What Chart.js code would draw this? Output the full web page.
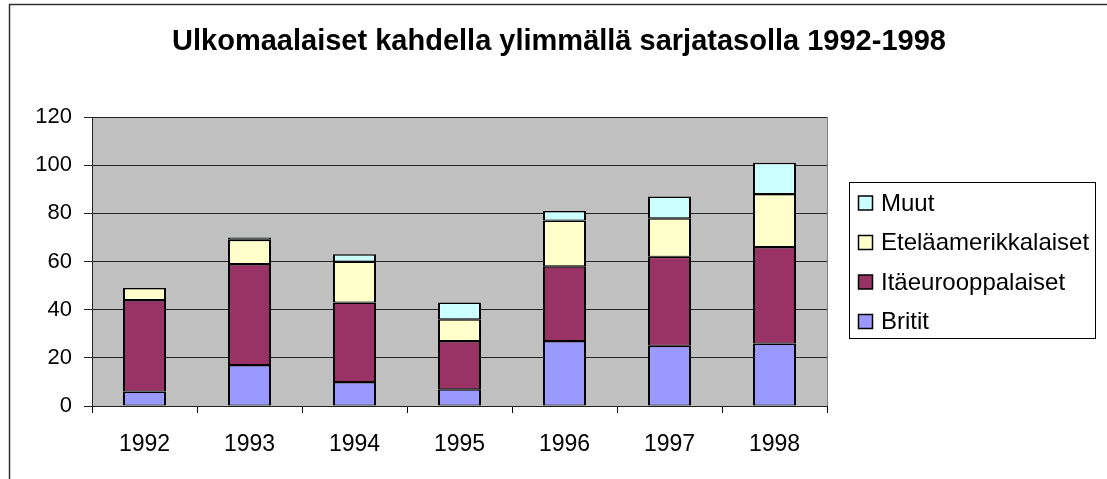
<!DOCTYPE html>
<html>
<head>
<meta charset="utf-8">
<script src="https://cdn.jsdelivr.net/npm/chart.js@4/dist/chart.umd.min.js"></script>
<style>
  html, body { margin: 0; padding: 0; background: #fff; }
  #wrap { width: 1107px; height: 479px; }
</style>
</head>
<body>
<div id="wrap"><canvas id="chart" width="1107" height="479"></canvas></div>
<script>
var ctx = document.getElementById('chart').getContext('2d');

const chartTitle = 'Ulkomaalaiset kahdella ylimmällä sarjatasolla 1992-1998';
const years = ['1992', '1993', '1994', '1995', '1996', '1997', '1998'];
const britit = [6, 17, 10, 7, 27, 25, 26];
const itaeurooppalaiset = [38, 42, 33, 20, 31, 37, 40];
const etelaamerikkalaiset = [5, 10, 17, 9, 19, 16, 22];
const muut = [0, 1, 3, 7, 4, 9, 13];
const yTicks = [0, 20, 40, 60, 80, 100, 120];

const FONT = 'Arial, "Liberation Sans", sans-serif';

// gray plot area, outer frame and the title (centred on the whole picture)
const plotBackground = {
  id: 'plotBackground',
  beforeDraw(chart) {
    const c = chart.ctx, a = chart.chartArea;
    c.save();
    c.fillStyle = '#c0c0c0';
    c.fillRect(a.left, a.top, a.right - a.left, a.bottom - a.top);
    c.strokeStyle = '#808080';
    c.lineWidth = 1;
    c.beginPath();
    c.moveTo(Math.round(a.right) + 0.5, a.top);
    c.lineTo(Math.round(a.right) + 0.5, a.bottom);
    c.stroke();
    c.strokeStyle = '#333';
    c.lineWidth = 1.5;
    c.beginPath();
    c.moveTo(9.5, 480);
    c.lineTo(9.5, 4.5);
    c.lineTo(1108, 4.5);
    c.stroke();
    c.fillStyle = '#000';
    c.font = 'bold 29px ' + FONT;
    c.textAlign = 'center';
    c.textBaseline = 'alphabetic';
    c.fillText(chartTitle, 559, 50);
    c.restore();
  }
};

// boxed legend on the right, last series on top
const boxLegend = {
  id: 'boxLegend',
  afterDraw(chart) {
    const c = chart.ctx;
    c.save();
    c.fillStyle = '#fff';
    c.strokeStyle = '#000';
    c.lineWidth = 1;
    c.fillRect(849.5, 182.5, 246, 156);
    c.strokeRect(849.5, 182.5, 246, 156);
    c.font = '24px ' + FONT;
    c.textBaseline = 'middle';
    const ds = chart.data.datasets.slice().reverse();
    ds.forEach(function (d, i) {
      const y = 203 + i * 39.5;
      c.fillStyle = d.backgroundColor;
      c.fillRect(858.5, y - 7, 14, 14);
      c.strokeStyle = '#000';
      c.lineWidth = 1.5;
      c.strokeRect(858.5, y - 7, 14, 14);
      c.fillStyle = '#000';
      c.fillText(d.label, 881, y + 1);
    });
    c.restore();
  }
};

function series(label, values, color) {
  return {
    label: label,
    data: values,
    backgroundColor: color,
    borderColor: '#000',
    borderWidth: { top: 1.5, bottom: 1, left: 2, right: 2 },
    borderSkipped: false,
    categoryPercentage: 1,
    barPercentage: 0.41
  };
}

const data = {
  labels: years,
  datasets: [
    series('Britit', britit, '#9999ff'),
    series('Itäeurooppalaiset', itaeurooppalaiset, '#993366'),
    series('Eteläamerikkalaiset', etelaamerikkalaiset, '#ffffcc'),
    series('Muut', muut, '#ccffff')
  ]
};

const config = {
  type: 'bar',
  data: data,
  options: {
    responsive: false,
    animation: false,
    events: [],
    layout: { padding: { left: 0, right: 280, top: 117, bottom: 0 } },
    plugins: {
      legend: { display: false },
      tooltip: { enabled: false },
      title: { display: false }
    },
    scales: {
      x: {
        stacked: true,
        afterFit: function (s) { s.height = 73; },
        grid: {
          offset: true,
          drawOnChartArea: false,
          drawTicks: true,
          tickLength: 7,
          color: '#000'
        },
        border: { color: '#222', width: 1 },
        ticks: {
          color: '#000',
          padding: 18,
          font: { family: FONT, size: 23 }
        }
      },
      y: {
        stacked: true,
        min: 0,
        max: 120,
        afterFit: function (s) { s.width = 92; },
        afterBuildTicks: function (s) { s.ticks = yTicks.map(function (v) { return { value: v }; }); },
        grid: { color: '#222', lineWidth: 1, tickLength: 8 },
        border: { color: '#222', width: 1 },
        ticks: {
          color: '#000',
          padding: 12,
          font: { family: FONT, size: 22 }
        }
      }
    }
  },
  plugins: [plotBackground, boxLegend]
};

var chart = new Chart(ctx, config);
</script>
</body>
</html>
